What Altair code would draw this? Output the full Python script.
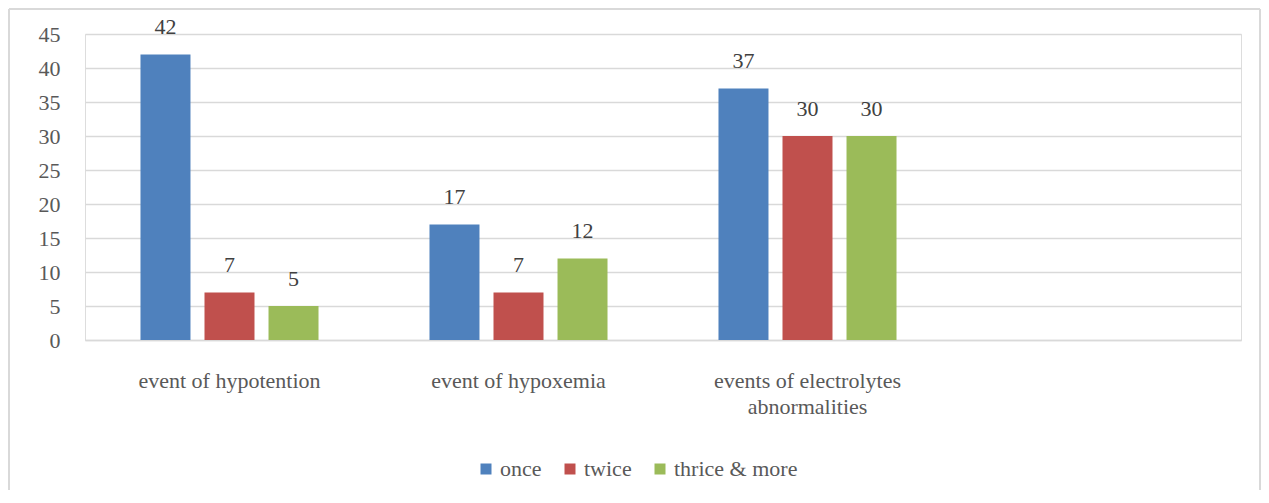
import altair as alt
import pandas as pd

categories = ["event of hypotention", "event of hypoxemia",
              "events of electrolytes\nabnormalities", " "]
series = ["once", "twice", "thrice & more"]
once = [42, 17, 37]
twice = [7, 7, 30]
thrice = [5, 12, 30]
colors = ["#4f81bd", "#c0504d", "#9bbb59"]
y_ticks = [0, 5, 10, 15, 20, 25, 30, 35, 40, 45]

rows = []
for i, c in enumerate(categories[:3]):
    for s, vals in zip(series, [once, twice, thrice]):
        rows.append({"category": c, "series": s, "value": vals[i]})
df = pd.DataFrame(rows)

FONT = "Liberation Serif"

x_enc = alt.X("category:N",
              scale=alt.Scale(domain=categories, paddingInner=0.384, paddingOuter=0.192),
              sort=categories,
              axis=alt.Axis(title=None, labelExpr="split(datum.label, '\\n')",
                            labelAngle=0, ticks=False, domainColor="#d9d9d9", domainWidth=1.5,
                            labelPadding=30, labelFont=FONT, labelFontSize=22, labelLimit=0,
                            labelColor="#595959", labelLineHeight=26, grid=False))
xo_enc = alt.XOffset("series:N", scale=alt.Scale(domain=series, paddingInner=0.219, paddingOuter=0))
y_enc = alt.Y("value:Q", scale=alt.Scale(domain=[0, 45], nice=False),
              axis=alt.Axis(title=None, values=y_ticks, ticks=False, domain=False,
                            gridColor="#d9d9d9", gridWidth=1.5, labelPadding=25,
                            labelFont=FONT, labelFontSize=22, labelColor="#595959"))

base = alt.Chart(df)
bars = base.mark_bar().encode(
    x=x_enc, xOffset=xo_enc, y=y_enc,
    color=alt.Color("series:N", scale=alt.Scale(domain=series, range=colors),
                    legend=alt.Legend(title=None, orient="none", legendX=390, legendY=424,
                                      direction="horizontal", symbolType="square",
                                      symbolSize=121, symbolStrokeWidth=0,
                                      labelFont=FONT, labelFontSize=22, labelColor="#595959",
                                      labelOffset=3, columnPadding=17))
)
labels = base.mark_text(baseline="bottom", dy=-15, font=FONT, fontSize=22, color="#404040").encode(
    x=x_enc, xOffset=xo_enc, y=y_enc, text="value:Q"
)
one = pd.DataFrame({"a": [0]})
edge = dict(stroke="#d9d9d9", strokeWidth=2)
left_edge = alt.Chart(one).mark_rule(**edge).encode(
    x=alt.value(-76), y=alt.value(-25), y2=alt.value(470))
right_edge = alt.Chart(one).mark_rule(**edge).encode(
    x=alt.value(1175), y=alt.value(-25), y2=alt.value(470))
top_edge = alt.Chart(one).mark_rule(**edge).encode(
    y=alt.value(-25), x=alt.value(-76), x2=alt.value(1175))

chart = alt.layer(left_edge, right_edge, top_edge, bars, labels).properties(
    width=1156, height=306,
    autosize=alt.AutoSizeParams(type="none"),
    padding={"left": 77, "top": 26, "right": 20, "bottom": 150},
).configure_view(stroke=None).configure(background="white")

chart.save("out.html", embed_options={"renderer": "svg", "actions": False})
